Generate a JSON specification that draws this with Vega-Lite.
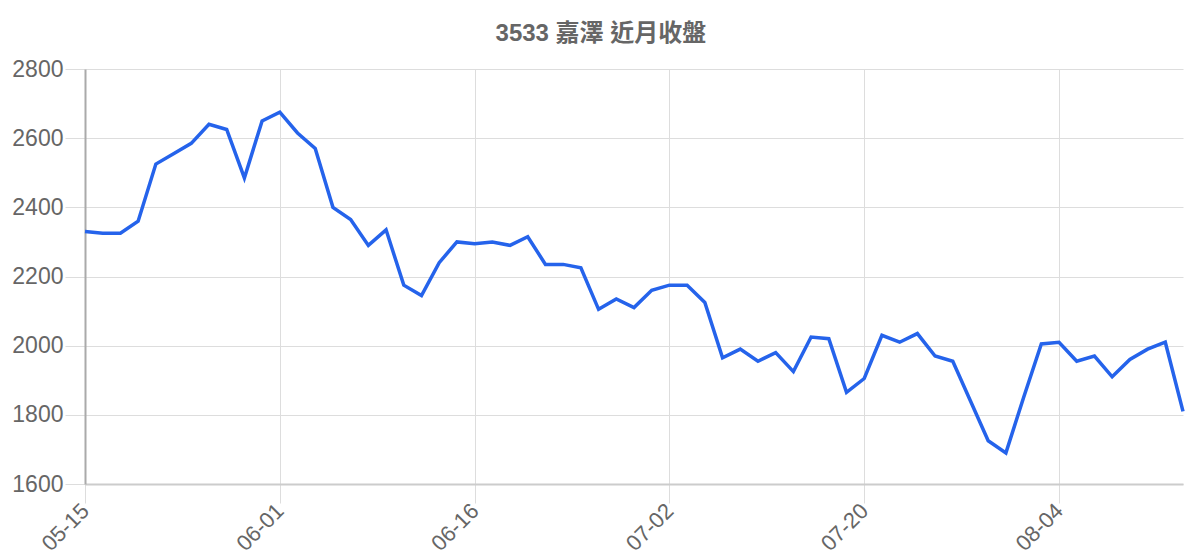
{
  "$schema": "https://vega.github.io/schema/vega-lite/v6.json",
  "description": "3533 嘉澤 近月收盤 line chart",
  "width": 1098,
  "height": 415,
  "autosize": "none",
  "padding": {"left": 85, "top": 69, "right": 17, "bottom": 76},
  "background": "white",
  "title": {
    "text": "3533 嘉澤 近月收盤",
    "font": "Liberation Sans, Noto Sans CJK TC",
    "fontSize": 24,
    "fontWeight": "bold",
    "color": "#666666",
    "anchor": "middle",
    "frame": "bounds",
    "offset": 12
  },
  "data": {
    "values": [
      {"d": "05-15", "close": 2330}, {"d": "05-18", "close": 2325}, {"d": "05-19", "close": 2325},
      {"d": "05-20", "close": 2360}, {"d": "05-21", "close": 2525}, {"d": "05-22", "close": 2555},
      {"d": "05-25", "close": 2585}, {"d": "05-26", "close": 2640}, {"d": "05-27", "close": 2625},
      {"d": "05-28", "close": 2485}, {"d": "05-29", "close": 2650}, {"d": "06-01", "close": 2675},
      {"d": "06-02", "close": 2615}, {"d": "06-03", "close": 2570}, {"d": "06-04", "close": 2400},
      {"d": "06-05", "close": 2365}, {"d": "06-08", "close": 2290}, {"d": "06-09", "close": 2335},
      {"d": "06-10", "close": 2175}, {"d": "06-11", "close": 2145}, {"d": "06-12", "close": 2240},
      {"d": "06-15", "close": 2300}, {"d": "06-16", "close": 2295}, {"d": "06-17", "close": 2300},
      {"d": "06-18", "close": 2290}, {"d": "06-19", "close": 2315}, {"d": "06-20", "close": 2235},
      {"d": "06-22", "close": 2235}, {"d": "06-23", "close": 2225}, {"d": "06-24", "close": 2105},
      {"d": "06-29", "close": 2135}, {"d": "06-30", "close": 2110}, {"d": "07-01", "close": 2160},
      {"d": "07-02", "close": 2175}, {"d": "07-03", "close": 2175}, {"d": "07-06", "close": 2125},
      {"d": "07-07", "close": 1965}, {"d": "07-08", "close": 1990}, {"d": "07-09", "close": 1955},
      {"d": "07-10", "close": 1980}, {"d": "07-13", "close": 1925}, {"d": "07-14", "close": 2025},
      {"d": "07-15", "close": 2020}, {"d": "07-16", "close": 1865}, {"d": "07-20", "close": 1905},
      {"d": "07-21", "close": 2030}, {"d": "07-22", "close": 2010}, {"d": "07-23", "close": 2035},
      {"d": "07-24", "close": 1970}, {"d": "07-27", "close": 1955}, {"d": "07-28", "close": 1840},
      {"d": "07-29", "close": 1725}, {"d": "07-30", "close": 1690}, {"d": "07-31", "close": 1850},
      {"d": "08-03", "close": 2005}, {"d": "08-04", "close": 2010}, {"d": "08-05", "close": 1955},
      {"d": "08-06", "close": 1970}, {"d": "08-07", "close": 1910}, {"d": "08-10", "close": 1960},
      {"d": "08-11", "close": 1990}, {"d": "08-12", "close": 2010}, {"d": "08-13", "close": 1810}
    ]
  },
  "mark": {"type": "line", "color": "#2563eb", "strokeWidth": 3.5, "strokeJoin": "miter"},
  "encoding": {
    "x": {
      "field": "d",
      "type": "ordinal",
      "sort": null,
      "scale": {"type": "point", "padding": 0},
      "axis": {
        "title": null,
        "values": ["05-15", "06-01", "06-16", "07-02", "07-20", "08-04"],
        "labelAngle": -45,
        "labelAlign": "right",
        "labelBaseline": "middle",
        "labelFontSize": 22,
        "labelColor": "#666666",
        "labelFont": "Liberation Sans",
        "labelPadding": 4,
        "tickSize": 19,
        "tickColor": "#dddddd",
        "grid": true,
        "gridColor": "#dddddd",
        "domainColor": "#cccccc",
        "domainWidth": 2
      }
    },
    "y": {
      "field": "close",
      "type": "quantitative",
      "scale": {"domain": [1600, 2800], "nice": false, "zero": false},
      "axis": {
        "title": null,
        "format": "d",
        "values": [1600, 1800, 2000, 2200, 2400, 2600, 2800],
        "labelFontSize": 23,
        "labelColor": "#666666",
        "labelFont": "Liberation Sans",
        "labelPadding": 2,
        "tickSize": 20,
        "tickColor": "#dddddd",
        "grid": true,
        "gridColor": "#dddddd",
        "domainColor": "#aaaaaa",
        "domainWidth": 2
      }
    }
  },
  "config": {"view": {"stroke": null}}
}
